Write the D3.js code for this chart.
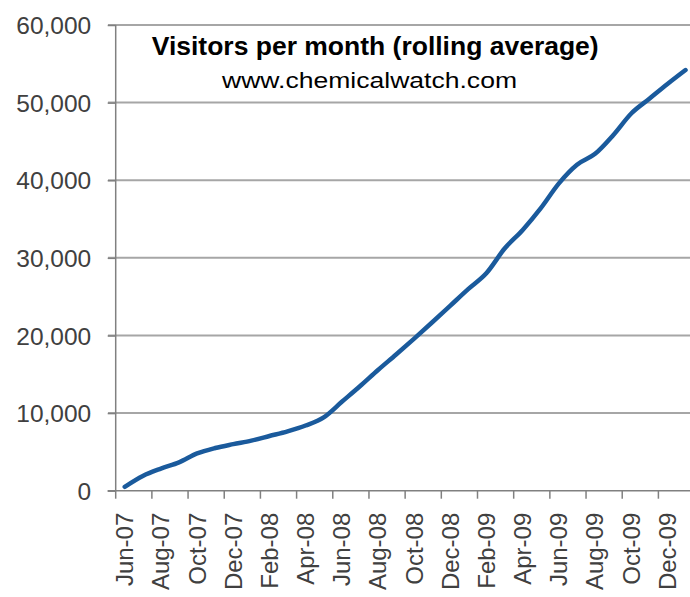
<!DOCTYPE html>
<html><head><meta charset="utf-8">
<script src="https://cdn.jsdelivr.net/npm/d3@7"></script>
<style>body{margin:0;background:#fff}svg{display:block}</style>
</head><body>
<svg id="c" width="690" height="597"></svg>
<script>
const months = ["Jun-07","Jul-07","Aug-07","Sep-07","Oct-07","Nov-07","Dec-07","Jan-08","Feb-08","Mar-08","Apr-08","May-08",
"Jun-08","Jul-08","Aug-08","Sep-08","Oct-08","Nov-08","Dec-08","Jan-09","Feb-09","Mar-09","Apr-09","May-09",
"Jun-09","Jul-09","Aug-09","Sep-09","Oct-09","Nov-09","Dec-09","Jan-10"];
const visitors = [500,1900,2850,3650,4800,5500,6000,6450,7050,7650,8400,9450,
11450,13450,15550,17550,19600,21700,23850,26000,28050,31200,33600,36400,
39600,42000,43400,45800,48600,50500,52400,54200];
const yTicks = [0,10000,20000,30000,40000,50000,60000];
const title = "Visitors per month (rolling average)";
const subtitle = "www.chemicalwatch.com";

const svg = d3.select("#c");
const x0 = 115.7, bw = 18.09;
const x = d3.scaleBand().domain(months).range([x0, x0 + bw*months.length]).padding(0);
const y = d3.scaleLinear().domain([0,60000]).range([490.7,25]);
const fmt = d3.format(",");

// gridlines
svg.append("g").selectAll("line").data(yTicks.filter(d=>d>0)).join("line")
  .attr("x1",108).attr("x2",690).attr("y1",d=>y(d)).attr("y2",d=>y(d))
  .attr("stroke","#a6a6a6").attr("stroke-width",2);

// y axis
const yAxis = d3.axisLeft(y).tickValues(yTicks).tickSize(8).tickFormat(fmt).tickPadding(16);
const gy = svg.append("g").attr("transform",`translate(${x0},0)`).call(yAxis);
gy.select(".domain").attr("stroke","#808080").attr("stroke-width",1.5).attr("d",`M0,${y(0)}V${y(60000)}`);
gy.selectAll(".tick line").attr("stroke","#808080").attr("stroke-width",1.5);
gy.selectAll(".tick text").attr("font-family","Liberation Sans, Arial, sans-serif").attr("font-size",24.5)
  .attr("fill","#404040").attr("x",-24.5).attr("dy","0.35em");

// x axis
const gx = svg.append("g").attr("transform",`translate(0,${y(0)})`);
gx.append("line").attr("x1",x0-8).attr("x2",690).attr("y1",0).attr("y2",0).attr("stroke","#808080").attr("stroke-width",1.5);
const tickIdx = months.map((m,i)=>i).filter(i=>i%2===0);
gx.selectAll("line.tk").data(tickIdx).join("line").attr("class","tk")
  .attr("x1",i=>x(months[i])).attr("x2",i=>x(months[i])).attr("y1",0).attr("y2",8)
  .attr("stroke","#808080").attr("stroke-width",1.5);
gx.selectAll("text").data(tickIdx).join("text")
  .attr("transform",i=>`translate(${x(months[i])+bw/2},22) rotate(-90)`)
  .attr("text-anchor","end").attr("dy","0.35em")
  .attr("font-family","Liberation Sans, Arial, sans-serif").attr("font-size",24).attr("fill","#404040")
  .text(i=>months[i]);

// line
const line = d3.line().x((d,i)=>x(months[i])+bw/2).y(d=>y(d)).curve(d3.curveMonotoneX);
svg.append("path").datum(visitors).attr("d",line).attr("fill","none")
  .attr("stroke","#1a5a9c").attr("stroke-width",4.5).attr("stroke-linejoin","round").attr("stroke-linecap","round");

// titles
svg.append("text").attr("x",151.7).attr("y",54.5).attr("font-family","Liberation Sans Narrow, Arial Narrow, sans-serif")
  .attr("font-weight","bold").attr("font-size",25).attr("fill","#000")
  .attr("textLength",447).attr("lengthAdjust","spacingAndGlyphs").text(title);
svg.append("text").attr("x",222).attr("y",88).attr("font-family","Liberation Sans, Arial, sans-serif")
  .attr("font-size",22).attr("fill","#000")
  .attr("textLength",295).attr("lengthAdjust","spacingAndGlyphs").text(subtitle);
</script>
</body></html>
